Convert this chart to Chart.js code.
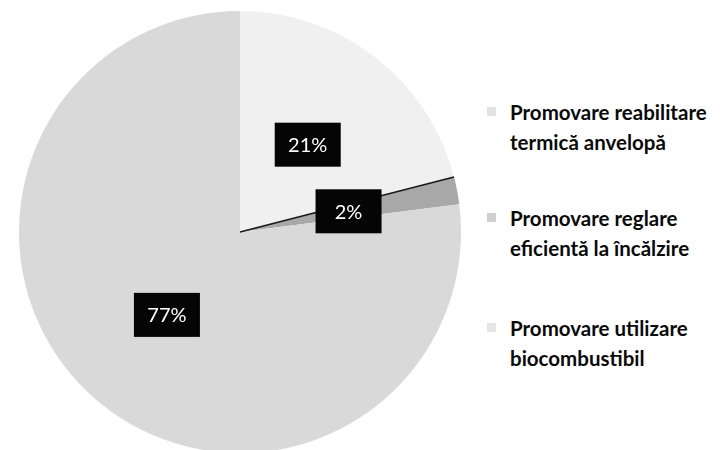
<!DOCTYPE html>
<html>
<head>
<meta charset="utf-8">
<script src="https://cdn.jsdelivr.net/npm/chart.js@4/dist/chart.umd.min.js"></script>
<style>
  html,body{margin:0;padding:0;background:#fff;width:720px;height:450px;overflow:hidden;}
  #wrap{position:absolute;left:19px;top:11px;width:442px;height:442px;}
  #legend{position:absolute;left:487px;top:0;font-family:Lato,"Open Sans",sans-serif;font-weight:700;font-size:20.5px;color:#0a0a0a;}
  .item{position:absolute;left:0;width:235px;line-height:30px;white-space:nowrap;}
  .mk{position:absolute;left:0;top:10px;width:9px;height:9px;}
  .txt{position:absolute;left:23px;top:0;}
</style>
</head>
<body>
<div id="wrap"><canvas id="c"></canvas></div>
<div id="legend"></div>
<script>
const categories = ["Promovare reabilitare termică anvelopă", "Promovare reglare eficientă la încălzire", "Promovare utilizare biocombustibil"];
const legendLines = [["Promovare reabilitare", "termică anvelopă"], ["Promovare reglare", "eficientă la încălzire"], ["Promovare utilizare", "biocombustibil"]];
const values = [21, 2, 77];
const valueLabels = ["21%", "2%", "77%"];

const fills = ["#f0f0f0", "#a8a8a8", "#d9d9d9"];
const markerFills = ["#e2e2e2", "#cfcfcf", "#e6e6e6"];

const labelPlugin = {
  id: "boxLabels",
  afterDatasetsDraw(chart) {
    const ctx = chart.ctx;
    const meta = chart.getDatasetMeta(0);
    const a = meta.data[1];
    ctx.save();
    ctx.strokeStyle = "#1a1a1a";
    ctx.lineWidth = 1.6;
    ctx.beginPath();
    ctx.moveTo(a.x, a.y);
    ctx.lineTo(a.x + Math.cos(a.startAngle) * a.outerRadius, a.y + Math.sin(a.startAngle) * a.outerRadius);
    ctx.stroke();
    ctx.font = "20px Lato, 'Open Sans', sans-serif";
    ctx.textAlign = "center";
    ctx.textBaseline = "middle";
    meta.data.forEach((arc, i) => {
      const p = arc.tooltipPosition();
      const w = 66, h = 44;
      ctx.fillStyle = "#050505";
      ctx.fillRect(p.x - w / 2, p.y - h / 2, w, h);
      ctx.fillStyle = "#ffffff";
      ctx.fillText(valueLabels[i], p.x, p.y + 1);
    });
    ctx.restore();
  }
};

new Chart(document.getElementById("c"), {
  type: "pie",
  data: {
    labels: categories,
    datasets: [{
      data: values,
      backgroundColor: fills,
      borderWidth: 0
    }]
  },
  options: {
    responsive: true,
    maintainAspectRatio: false,
    animation: false,
    layout: { padding: 0 },
    plugins: {
      legend: { display: false },
      tooltip: { enabled: false }
    }
  },
  plugins: [labelPlugin]
});

const legend = document.getElementById("legend");
const tops = [97, 203, 313];
legendLines.forEach((lines, i) => {
  const it = document.createElement("div");
  it.className = "item";
  it.style.top = tops[i] + "px";
  const mk = document.createElement("div");
  mk.className = "mk";
  mk.style.background = markerFills[i];
  const tx = document.createElement("div");
  tx.className = "txt";
  tx.innerHTML = lines.join("<br>");
  it.appendChild(mk);
  it.appendChild(tx);
  legend.appendChild(it);
});
</script>
</body>
</html>
